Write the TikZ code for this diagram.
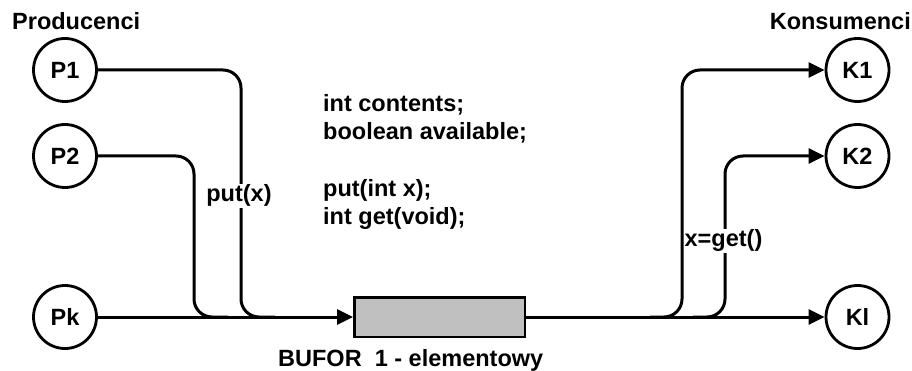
\documentclass[tikz,border=0pt]{standalone}
\usepackage{fontspec}
\setmainfont{Liberation Sans}
\usetikzlibrary{arrows.meta}
\definecolor{bufgray}{RGB}{192,192,192}
\begin{document}
\begin{tikzpicture}[x=1pt,y=-1pt,
  font=\fontsize{23.5}{28}\selectfont\bfseries,
  proc/.style={circle,draw,line width=2.8pt,minimum size=63pt,inner sep=0pt},
  wire/.style={line width=3pt},
  arr/.style={wire,-{Triangle[length=16pt,width=15pt]}},
  buf/.style={draw,line width=2.5pt,fill=bufgray,minimum width=170.5pt,minimum height=39.5pt,inner sep=0pt},
  txt/.style={inner sep=0pt},
  lbl/.style={fill=white,inner sep=1pt}]
\path[use as bounding box] (0,0) rectangle (912,371);

% producers and consumers
\node[proc] (P1) at (65,70) {P1};
\node[proc] (P2) at (65,156) {P2};
\node[proc] (Pk) at (65,317) {Pk};
\node[proc] (K1) at (857.5,70) {K1};
\node[proc] (K2) at (857.5,156) {K2};
\node[proc] (Kl) at (857.5,317) {Kl};

% buffer
\node[buf] (buf) at (439.5,317) {};

% helper coordinates
\coordinate (j1) at (241,317);
\coordinate (j1e) at (275,317);
\coordinate (j2) at (194,317);
\coordinate (j2e) at (228,317);
\coordinate (k1s) at (650,317);
\coordinate (k1b) at (682,317);
\coordinate (k2s) at (693,317);
\coordinate (k2b) at (725,317);

% wires
\draw[arr] (Pk) -- (buf);
\draw[arr] (buf) -- (Kl);
\draw[wire,rounded corners=18pt] (P1) -| (j1) -- (j1e);
\draw[wire,rounded corners=18pt] (P2) -| (j2) -- (j2e);
\draw[arr,rounded corners=18pt] (k1s) -- (k1b) |- (K1);
\draw[arr,rounded corners=18pt] (k2s) -- (k2b) |- (K2);

% labels
\node[txt,anchor=base west] (prod) at (12,30) {Producenci};
\node[txt,anchor=base east] (kons) at (911,30) {Konsumenci};
\node[lbl,anchor=base] (put) at (239,202) {put(x)};
\node[lbl,anchor=base] (get) at (723.5,247) {x=get()};
\node[txt,anchor=base west] (c1) at (323,112) {int contents;};
\node[txt,anchor=base west] (c2) at (323,140) {boolean available;};
\node[txt,anchor=base west] (c3) at (323,197) {put(int x);};
\node[txt,anchor=base west] (c4) at (323,225) {int get(void);};
\node[txt,anchor=base west] (bufl) at (278,366) {BUFOR\ \ 1 - elementowy};
\end{tikzpicture}
\end{document}
